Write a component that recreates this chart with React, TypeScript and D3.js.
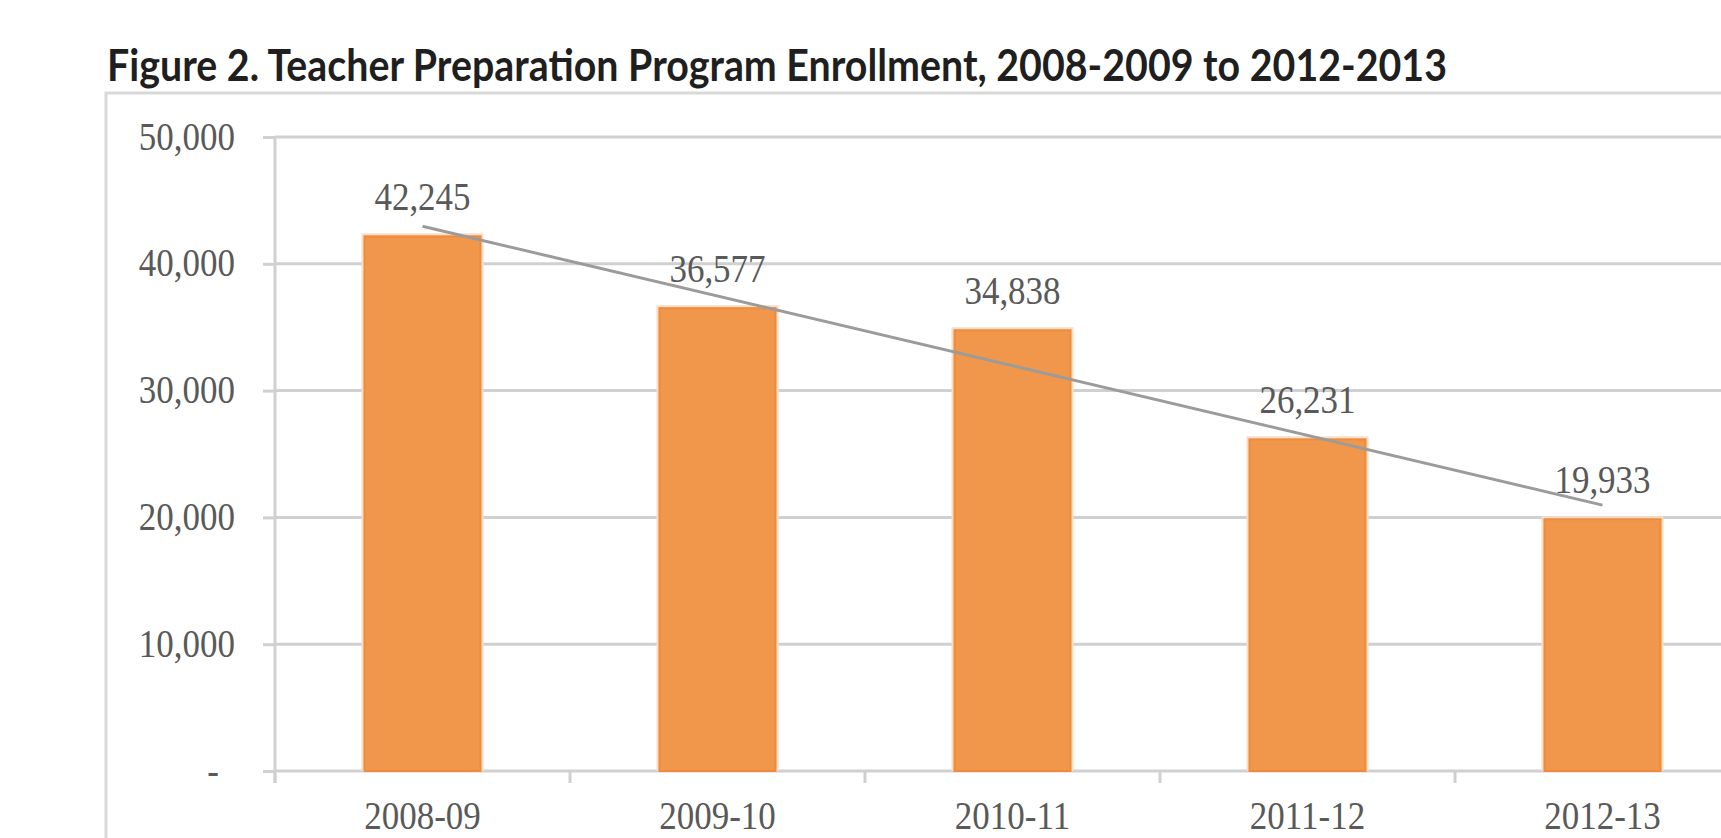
// @ts-nocheck
import * as d3 from 'd3';
import React, { useEffect, useRef } from 'react';

// chart data
const title = 'Figure 2. Teacher Preparation Program Enrollment, 2008-2009 to 2012-2013';
const categories = ['2008-09', '2009-10', '2010-11', '2011-12', '2012-13'];
const enrollment = [42245, 36577, 34838, 26231, 19933];
const yTicks = [0, 10000, 20000, 30000, 40000, 50000];

const WIDTH = 1721;
const HEIGHT = 838;
const STRETCH = 1.15; // source picture is a bit taller than wide

const App = () => {
  const svgRef = useRef(null);

  useEffect(() => {
    if (!svgRef.current) return;
    const svg = d3.select(svgRef.current);
    svg.selectAll('*').remove();

    const plot = { left: 275, right: 1750, top: 137, bottom: 771 };

    const x = d3
      .scaleBand()
      .domain(categories)
      .range([plot.left, plot.right])
      .paddingInner(0.6)
      .paddingOuter(0.3);

    const y = d3.scaleLinear().domain([0, 50000]).range([plot.bottom, plot.top]);

    const serif = '"Liberation Serif", "Times New Roman", serif';
    const labelColor = '#595959';
    const gridColor = '#d0d0d0';

    // outer chart frame (runs off the picture right and bottom)
    svg
      .append('rect')
      .attr('x', 106)
      .attr('y', 93)
      .attr('width', 2000)
      .attr('height', 1000)
      .attr('fill', '#fff')
      .attr('stroke', '#d9d9d9')
      .attr('stroke-width', 3);

    // title
    svg
      .append('text')
      .attr('transform', `translate(107,81) scale(1,${STRETCH})`)
      .attr('textLength', 1340)
      .attr('lengthAdjust', 'spacingAndGlyphs')
      .style('font-family', 'Lato, "Open Sans", sans-serif')
      .style('font-weight', 'bold')
      .style('font-size', '38px')
      .style('fill', '#1f1f1f')
      .text(title);

    // gridlines
    svg
      .append('g')
      .selectAll('line')
      .data(yTicks.filter(d => d > 0))
      .enter()
      .append('line')
      .attr('x1', plot.left)
      .attr('x2', WIDTH)
      .attr('y1', d => y(d))
      .attr('y2', d => y(d))
      .attr('stroke', gridColor)
      .attr('stroke-width', 3);

    // y axis
    const yAxis = svg
      .append('g')
      .attr('transform', `translate(${plot.left},0)`)
      .call(
        d3
          .axisLeft(y)
          .tickValues(yTicks)
          .tickSize(12)
          .tickPadding(28)
          .tickFormat(d => (d === 0 ? '-' : d3.format(',')(d)))
      );
    yAxis.select('.domain').remove();
    yAxis.selectAll('.tick line').attr('stroke', gridColor).attr('stroke-width', 3);
    yAxis
      .selectAll('.tick text')
      .attr('dy', null)
      .attr('y', 12 / STRETCH)
      .attr('transform', `scale(1,${STRETCH})`)
      .attr('dx', d => (d === 0 ? -16 : 0))
      .style('font-family', serif)
      .style('font-size', '35px')
      .style('fill', labelColor);

    svg
      .append('line')
      .attr('x1', plot.left)
      .attr('x2', plot.left)
      .attr('y1', plot.top)
      .attr('y2', plot.bottom + 12)
      .attr('stroke', gridColor)
      .attr('stroke-width', 3);

    // x axis
    const xAxis = svg
      .append('g')
      .attr('transform', `translate(0,${plot.bottom})`)
      .call(d3.axisBottom(x).tickSize(0).tickPadding(0));
    xAxis.select('.domain').remove();
    xAxis
      .selectAll('.tick text')
      .attr('dy', null)
      .attr('y', 58 / STRETCH)
      .attr('transform', `scale(1,${STRETCH})`)
      .style('font-family', serif)
      .style('font-size', '35px')
      .style('fill', labelColor);

    svg
      .append('line')
      .attr('x1', plot.left)
      .attr('x2', WIDTH)
      .attr('y1', plot.bottom)
      .attr('y2', plot.bottom)
      .attr('stroke', gridColor)
      .attr('stroke-width', 3);

    // category dividers on the x axis
    const bounds = d3.range(categories.length + 1).map(i => plot.left + i * x.step());
    svg
      .append('g')
      .selectAll('line')
      .data(bounds)
      .enter()
      .append('line')
      .attr('x1', d => d)
      .attr('x2', d => d)
      .attr('y1', plot.bottom)
      .attr('y2', plot.bottom + 12)
      .attr('stroke', gridColor)
      .attr('stroke-width', 3);

    // bars
    const bars = svg.append('g');
    bars
      .selectAll('.halo')
      .data(enrollment)
      .enter()
      .append('rect')
      .attr('x', (d, i) => x(categories[i]) - 2)
      .attr('width', x.bandwidth() + 4)
      .attr('y', d => y(d) - 2)
      .attr('height', d => plot.bottom - y(d) + 2)
      .attr('fill', '#fbdcc5');
    bars
      .selectAll('.bar')
      .data(enrollment)
      .enter()
      .append('rect')
      .attr('x', (d, i) => x(categories[i]) + 1)
      .attr('width', x.bandwidth() - 2)
      .attr('y', d => y(d) + 1)
      .attr('height', d => plot.bottom - y(d) - 1)
      .attr('fill', '#f0974b')
      .attr('stroke', '#ee8b3d')
      .attr('stroke-width', 2);

    // linear trendline (least squares through the bars)
    const n = enrollment.length;
    const mx = d3.mean(d3.range(n));
    const my = d3.mean(enrollment);
    const slope =
      d3.sum(enrollment, (v, i) => (i - mx) * (v - my)) / d3.sum(d3.range(n), i => (i - mx) * (i - mx));
    const trend = [0, n - 1].map(i => ({ i, v: my + slope * (i - mx) }));
    const line = d3
      .line()
      .x(d => x(categories[d.i]) + x.bandwidth() / 2)
      .y(d => y(d.v));
    svg
      .append('path')
      .datum(trend)
      .attr('d', line)
      .attr('fill', 'none')
      .attr('stroke', '#9b9b9b')
      .attr('stroke-width', 3);

    // data labels
    svg
      .append('g')
      .selectAll('text')
      .data(enrollment)
      .enter()
      .append('text')
      .attr('transform', (d, i) => `translate(${x(categories[i]) + x.bandwidth() / 2},${y(d) - 25}) scale(1,${STRETCH})`)
      .attr('text-anchor', 'middle')
      .style('font-family', serif)
      .style('font-size', '35px')
      .style('fill', labelColor)
      .text(d => d3.format(',')(d));
  }, []);

  return (
    <svg
      ref={svgRef}
      width={WIDTH}
      height={HEIGHT}
      style={{ position: 'absolute', left: 0, top: 0, display: 'block', background: '#fff' }}
    />
  );
};

export default App;
